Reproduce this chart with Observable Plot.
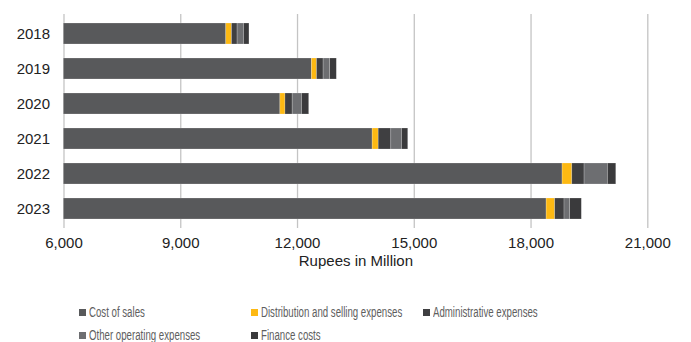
<!DOCTYPE html>
<html>
<head>
<meta charset="utf-8">
<script src="https://cdn.jsdelivr.net/npm/d3@7"></script>
<script src="https://cdn.jsdelivr.net/npm/@observablehq/plot@0.6"></script>
<style>
  html, body { margin: 0; padding: 0; background: #fff; }
  #wrap { position: relative; width: 691px; height: 342px; }
  #legend { position: absolute; left: 0; top: 0; width: 691px; height: 342px; pointer-events: none; }
  .li { position: absolute; font-family: "Liberation Sans", Arial, sans-serif; font-size: 14px; color: #5e5e5e; white-space: nowrap; line-height: 14px; transform: scaleX(0.69); transform-origin: 0 50%; }
  .sw { position: absolute; width: 7px; height: 7px; }
</style>
</head>
<body>
<div id="wrap"><div id="chart"></div><div id="legend"></div></div>
<script>
const years = ["2018", "2019", "2020", "2021", "2022", "2023"];
const series = ["Cost of sales", "Distribution and selling expenses", "Administrative expenses", "Other operating expenses", "Finance costs"];
const colors = ["#58595b", "#fdb913", "#3f3f41", "#6d6e71", "#3a3a3c"];
const costOfSales  = [10170, 12370, 11560, 13930, 18810, 18400];
const distribution = [145, 130, 130, 155, 250, 220];
const administrative = [145, 170, 185, 325, 315, 240];
const otherOperating = [165, 170, 240, 275, 600, 145];
const financeCosts = [140, 170, 185, 160, 215, 300];
const xTicks = [6000, 9000, 12000, 15000, 18000, 21000];
const xLabel = "Rupees in Million";

const valuesBySeries = [costOfSales, distribution, administrative, otherOperating, financeCosts];
const rows = [];
series.forEach((s, si) => years.forEach((y, yi) => rows.push({year: y, series: s, value: valuesBySeries[si][yi]})));

const chart = Plot.plot({
  width: 691,
  height: 285,
  marginLeft: 63.5,
  marginRight: 43.7,
  marginTop: 14,
  marginBottom: 57,
  style: {fontFamily: "Liberation Sans, Arial, sans-serif", fontSize: "15px", color: "#222", background: "#fff"},
  x: {domain: [6000, 21000], ticks: xTicks, tickFormat: d3.format(","), label: null},
  y: {domain: years, paddingInner: 0.41, paddingOuter: 0.2, label: null},
  color: {domain: series, range: colors},
  marks: [
    Plot.gridX(xTicks, {stroke: "#c4c4c4", strokeOpacity: 1, strokeWidth: 1.3}),
    Plot.barX(rows, Plot.stackX({x: "value", y: "year", fill: "series", order: null, clip: true, stroke: "#ffffff", strokeOpacity: 0.35, strokeWidth: 0.6})),
    Plot.axisX(xTicks, {tickSize: 0, tickPadding: 9, tickFormat: d3.format(","), fontSize: 15, label: null}),
    Plot.axisY({tickSize: 0, tickPadding: 14, fontSize: 15, label: null}),
    Plot.text([xLabel], {frameAnchor: "bottom", dy: 37, fontSize: 15, fill: "#222"})
  ]
});
document.getElementById("chart").appendChild(chart);

const legendPos = [
  {x: 79, y: 312}, {x: 251, y: 312}, {x: 423, y: 312},
  {x: 79, y: 335}, {x: 251, y: 335}
];
const legend = document.getElementById("legend");
series.forEach((s, i) => {
  const p = legendPos[i];
  const sw = document.createElement("div");
  sw.className = "sw";
  sw.style.left = p.x + "px";
  sw.style.top = (p.y - 3.5) + "px";
  sw.style.background = colors[i];
  legend.appendChild(sw);
  const t = document.createElement("div");
  t.className = "li";
  t.style.left = (p.x + 10) + "px";
  t.style.top = (p.y - 7) + "px";
  t.textContent = s;
  legend.appendChild(t);
});
</script>
</body>
</html>
